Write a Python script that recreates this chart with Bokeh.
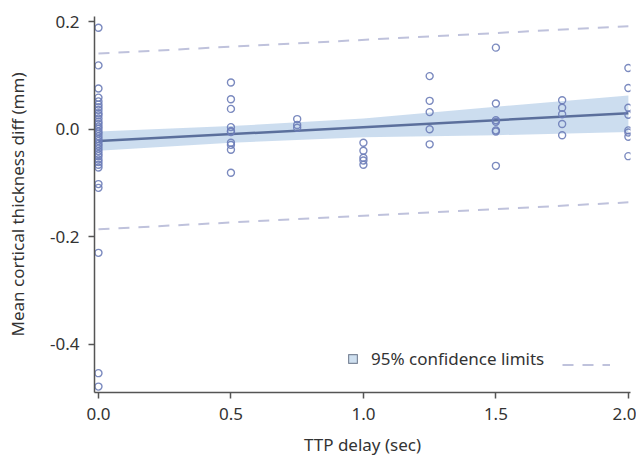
import numpy as np
from bokeh.plotting import figure
from bokeh.models import Range1d, FixedTicker, Legend, LegendItem
from bokeh.embed import file_html
from bokeh.resources import INLINE

# scatter data: TTP delay (sec) vs mean cortical thickness diff (mm)
x0_vals = [0.189, 0.119, 0.076, 0.059, 0.052, 0.046, 0.041, 0.036, 0.030, 0.026, 0.020, 0.014,
           0.010, 0.005, 0.001, -0.004, -0.008, -0.013, -0.018, -0.022, -0.027, -0.031, -0.036,
           -0.041, -0.046, -0.050, -0.056, -0.061, -0.066, -0.071, -0.102, -0.109, -0.230,
           -0.454, -0.479]
x05_vals = [0.087, 0.056, 0.038, 0.004, -0.003, -0.005, -0.025, -0.029, -0.038, -0.081]
x075_vals = [0.019, 0.008, 0.003]
x10_vals = [-0.025, -0.040, -0.053, -0.058, -0.066]
x125_vals = [0.099, 0.053, 0.032, 0.000, -0.028]
x15_vals = [0.152, 0.048, 0.017, 0.014, -0.002, -0.004, -0.068]
x175_vals = [0.054, 0.040, 0.028, 0.010, -0.011]
x20_vals = [0.114, 0.077, 0.040, 0.027, -0.002, -0.006, -0.014, -0.050]

groups = [(0.0, x0_vals), (0.5, x05_vals), (0.75, x075_vals), (1.0, x10_vals),
          (1.25, x125_vals), (1.5, x15_vals), (1.75, x175_vals), (2.0, x20_vals)]

# regression fit and limits
fit_x = [0.0, 2.0]
fit_y = [-0.022, 0.030]
ci_x = [0.0, 0.5, 1.0, 1.5, 2.0]
ci_lower = [-0.040, -0.025, -0.015, -0.011, -0.005]
ci_upper = [-0.004, 0.006, 0.020, 0.042, 0.063]
pl_x = [0.0, 2.0]
pl_lower = [-0.186, -0.136]
pl_upper = [0.141, 0.192]

x_ticks = [0.0, 0.5, 1.0, 1.5, 2.0]
y_ticks = [-0.4, -0.2, 0.0, 0.2]

FONT = "Noto Sans"
FS = "17px"

p = figure(width=636, height=460, output_backend="svg", toolbar_location=None,
           x_range=Range1d(-0.015, 2.008), y_range=Range1d(-0.49, 0.21),
           min_border_left=94, min_border_right=6, min_border_top=16, min_border_bottom=68)
p.outline_line_color = None
p.grid.grid_line_color = None
p.background_fill_color = "white"

band = p.varea(x=ci_x, y1=ci_lower, y2=ci_upper, fill_color="#c3d7ec", fill_alpha=0.85)
fit = p.line(fit_x, fit_y, line_color="#5b6f9c", line_width=2.5)
up = p.line(pl_x, pl_upper, line_color="#bfc2dc", line_width=2, line_dash="11 9")
lo = p.line(pl_x, pl_lower, line_color="#bfc2dc", line_width=2, line_dash="11 9")

xs, ys = [], []
for gx, vals in groups:
    for v in vals:
        xs.append(gx)
        ys.append(v)
p.scatter(xs, ys, size=7, marker="circle", fill_color=None, line_color="#6d7db8",
          line_width=1.4, line_alpha=0.9)

# legend proxy glyph (not drawn: NaN)
proxy = p.quad(left=[np.nan], right=[np.nan], top=[np.nan], bottom=[np.nan],
               fill_color="#cfe0f0", line_color="#7f8a9c", line_width=1.2)

leg1 = Legend(items=[LegendItem(label="95% confidence limits", renderers=[proxy])],
              location=(253, 22), orientation="horizontal",
              glyph_width=11, glyph_height=11, label_height=11, label_standoff=13,
              padding=0, margin=0, spacing=0, border_line_color=None,
              background_fill_alpha=0, label_text_font=FONT, label_text_font_size=FS,
              label_text_color="#333333", label_text_baseline="middle")
leg2 = Legend(items=[LegendItem(label="", renderers=[up])],
              location=(468, 22), orientation="horizontal",
              glyph_width=48, glyph_height=11, label_height=11, label_standoff=0,
              padding=0, margin=0, spacing=0, border_line_color=None,
              background_fill_alpha=0, label_text_font_size="1px")
p.add_layout(leg1, "center")
p.add_layout(leg2, "center")

for ax in (p.xaxis[0], p.yaxis[0]):
    ax.axis_line_color = "#555555"
    ax.axis_line_width = 1.5
    ax.major_tick_line_color = "#555555"
    ax.major_tick_line_width = 1.5
    ax.major_tick_out = 6
    ax.major_tick_in = 0
    ax.minor_tick_line_color = None
    ax.major_label_text_font = FONT
    ax.major_label_text_font_size = FS
    ax.major_label_text_color = "#333333"
    ax.axis_label_text_font = FONT
    ax.axis_label_text_font_size = FS
    ax.axis_label_text_font_style = "normal"
    ax.axis_label_text_color = "#333333"

p.xaxis.ticker = FixedTicker(ticks=x_ticks)
p.yaxis.ticker = FixedTicker(ticks=y_ticks)
p.xaxis.major_label_overrides = {t: f"{t:.1f}" for t in x_ticks}
p.yaxis.major_label_overrides = {t: f"{t:.1f}" for t in y_ticks}
p.xaxis.axis_label = "TTP delay (sec)"
p.yaxis.axis_label = "Mean cortical thickness diff (mm)"
p.xaxis.major_label_standoff = 9
p.xaxis.axis_label_standoff = 10
p.yaxis.major_label_standoff = 9
p.yaxis.axis_label_standoff = 18

open("out.html", "w").write(file_html(p, INLINE))
